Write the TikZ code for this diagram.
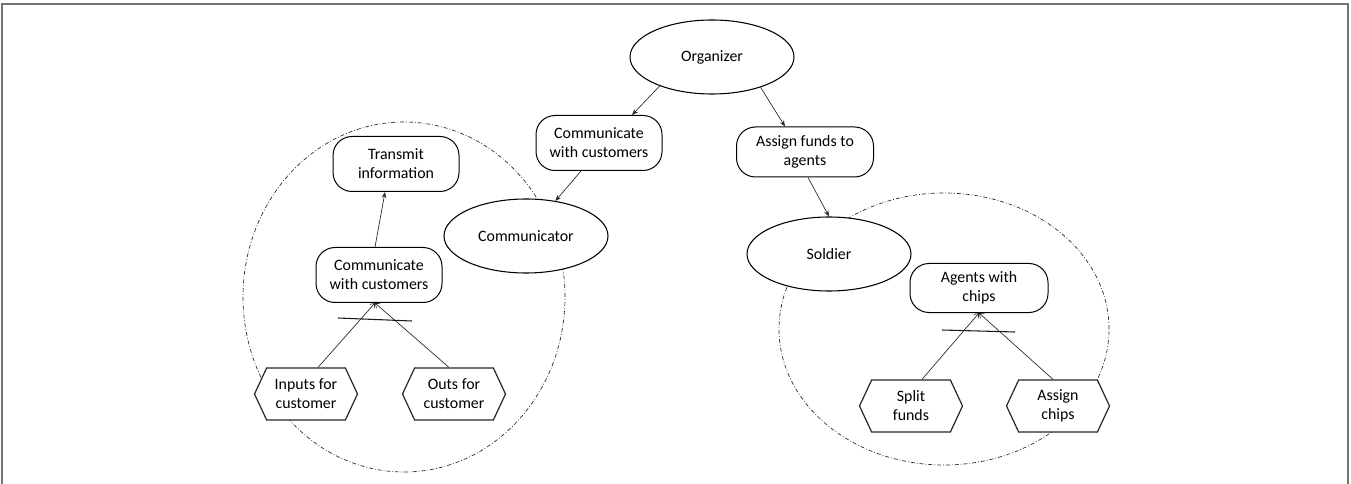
\documentclass[tikz,border=0pt]{standalone}
\usepackage{fontspec}
\setmainfont{Carlito}
\usetikzlibrary{shapes.geometric,shapes.symbols,arrows.meta,calc}
\def\pxu{0.75pt}
\begin{document}
\begin{tikzpicture}[x=0.75pt,y=-0.75pt,
  font=\fontsize{11.9}{14.3}\selectfont,
  ell/.style={ellipse, draw, line width=0.8pt, fill=white, minimum width=164*\pxu, minimum height=74*\pxu, inner sep=0pt},
  rbox/.style={rectangle, rounded corners=19*\pxu, draw, line width=0.75pt, fill=white, align=center, inner sep=0pt, minimum width=126*\pxu, minimum height=55*\pxu},
  hexbox/.style={signal, signal to=east and west, signal pointer angle=130, draw=black!85, line width=0.9pt, fill=white, align=center, inner sep=0pt, minimum width=103*\pxu, minimum height=52*\pxu},
  conn/.style={line width=0.5pt, draw=black!85, -{Stealth[length=4.5pt, width=3.5pt]}},
  conv/.style={line width=0.5pt, draw=black!85, -{Straight Barb[length=3pt, width=4.5pt]}},
  grp/.style={ellipse, draw=black!85, line width=0.5pt, dash pattern=on 3pt off 1.5pt on 0.6pt off 1.5pt, inner sep=0pt},
  barline/.style={line width=0.8pt, draw=black!90},
  frameline/.style={draw=black!55, line width=1.5pt}
]
\useasboundingbox (0,0) rectangle (1351,484);
\coordinate (f1) at (2,484);
\coordinate (f2) at (2,4);
\coordinate (f3) at (1348,4);
\coordinate (f4) at (1348,484);
\draw[frameline] (f1) -- (f2) -- (f3) -- (f4);

\node[grp, minimum width=322*\pxu, minimum height=350*\pxu] (lgrp) at (404,297) {};
\node[grp, minimum width=330*\pxu, minimum height=272*\pxu] (rgrp) at (944,329) {};

\node[ell] (org) at (712,57) {Organizer};
\node[rbox] (tcomm) at (599,143) {Communicate\\with customers};
\node[rbox, minimum width=137*\pxu, minimum height=50*\pxu] (assign) at (805,152) {Assign funds to\\agents};
\node[ell] (comm) at (526,236) {Communicator};
\node[rbox] (trans) at (396,164) {Transmit\\information};
\node[rbox] (icomm) at (379,275) {Communicate\\with customers};
\node[hexbox] (inputs) at (306,394) {Inputs for\\customer};
\node[hexbox] (outs) at (454,394) {Outs for\\customer};
\node[ell] (sold) at (829,254) {Soldier};
\node[rbox, minimum width=138*\pxu, minimum height=49*\pxu] (agents) at (979,288) {Agents with\\chips};
\node[hexbox] (split) at (911,406) {Split\\funds};
\node[hexbox] (achips) at (1058,406) {Assign\\chips};

\draw[conn] (org.209) -- ($(tcomm.north)+(33,0)$);
\draw[conn] (org.328) -- ($(assign.north)+(-20,0)$);
\draw[conn] ($(assign.south)+(3,0)$) -- (sold.north);
\draw[conn] ($(tcomm.south)+(-18,0)$) -- (comm.50);
\draw[conn] ($(icomm.north)+(-4,0)$) -- ($(trans.south)+(-11,0)$);

\draw[conv] ($(inputs.north)+(12,0)$) -- ($(icomm.south)+(-4,0)$);
\draw[conv] ($(outs.north)+(-5,0)$) -- ($(icomm.south)+(-4,0)$);
\draw[conv] ($(split.north)+(11,0)$) -- (agents.south);
\draw[conv] ($(achips.north)+(-5,0)$) -- (agents.south);

\coordinate (lb1) at (338,318);
\coordinate (lb2) at (412,321);
\coordinate (rb1) at (942,330);
\coordinate (rb2) at (1015,332);
\draw[barline] (lb1) -- (lb2);
\draw[barline] (rb1) -- (rb2);
\end{tikzpicture}
\end{document}
